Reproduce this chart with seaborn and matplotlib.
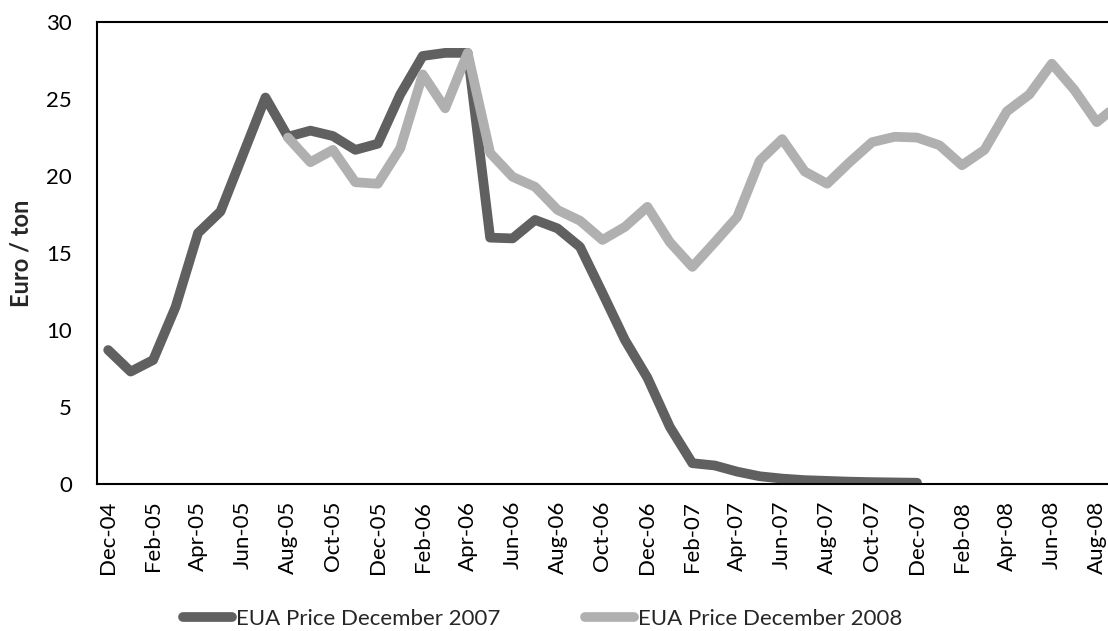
import numpy as np
import pandas as pd
import matplotlib
matplotlib.use("Agg")
import matplotlib.pyplot as plt
import seaborn as sns

# -----------------------------
# Data
# -----------------------------
months = pd.date_range("2004-12-01", periods=46, freq="MS").strftime("%b-%y").tolist()

# December 2007 contract, Dec-04 .. Dec-07
eua_dec07 = [8.7, 7.3, 8.05, 11.5, 16.3, 17.7, 21.4, 25.1, 22.55, 22.95,
             22.6, 21.7, 22.1, 25.3, 27.8, 28.0, 28.0, 16.0, 15.95, 17.15,
             16.6, 15.4, 12.4, 9.35, 6.9, 3.7, 1.35, 1.2, 0.8, 0.5,
             0.35, 0.25, 0.2, 0.15, 0.12, 0.1, 0.08]

# December 2008 contract, Aug-05 .. Sep-08
eua_dec08 = [22.5, 20.9, 21.7, 19.6, 19.5, 21.8, 26.6, 24.4, 28.0, 21.5,
             19.95, 19.3, 17.8, 17.1, 15.85, 16.7, 18.0, 15.7, 14.1, 15.7,
             17.35, 21.0, 22.4, 20.3, 19.5, 20.9, 22.2, 22.55, 22.5, 22.0,
             20.7, 21.7, 24.2, 25.3, 27.3, 25.6, 23.5, 24.7]

series_names = ["EUA Price December 2007", "EUA Price December 2008"]
dec08_start = months.index("Aug-05")

df = pd.concat([
    pd.DataFrame({"idx": np.arange(len(eua_dec07)), "price": eua_dec07,
                  "series": series_names[0]}),
    pd.DataFrame({"idx": np.arange(len(eua_dec08)) + dec08_start, "price": eua_dec08,
                  "series": series_names[1]}),
])

# -----------------------------
# Plot
# -----------------------------
sns.set_style("white")
plt.rcParams["font.family"] = ["Lato", "DejaVu Sans"]

fig = plt.figure(figsize=(11.08, 6.31), dpi=100)
ax = fig.add_axes([0.0875, 0.233, 0.9125, 0.732])

sns.lineplot(data=df, x="idx", y="price", hue="series",
             palette=["#606060", "#b0b0b0"], linewidth=7,
             solid_capstyle="round", solid_joinstyle="round", ax=ax)

ax.set_xlim(-0.5, 44.5)
ax.set_ylim(0, 30)
ax.set_yticks(range(0, 31, 5))
ax.set_xticks(range(0, 45, 2))
ax.set_xticklabels(months[0:45:2], rotation=90)
ax.tick_params(axis="both", length=0, labelsize=16, colors="black")
ax.tick_params(axis="x", pad=12)
ax.tick_params(axis="y", pad=18)
ax.set_xlabel("")
ax.set_ylabel("Euro / ton", fontsize=17, fontweight="bold")
ax.yaxis.set_label_coords(-0.064, 0.5)

for side in ["left", "bottom", "top"]:
    ax.spines[side].set_color("black")
    ax.spines[side].set_linewidth(1.5)
ax.spines["right"].set_visible(False)

handles, labels = ax.get_legend_handles_labels()
ax.get_legend().remove()
fig.legend(handles, labels, loc="lower center", bbox_to_anchor=(0.49, -0.011),
           borderaxespad=0, ncol=2, frameon=False, fontsize=16, handlelength=2.2,
           handletextpad=0.2, columnspacing=3.8)

fig.savefig("out.png", dpi=100)
